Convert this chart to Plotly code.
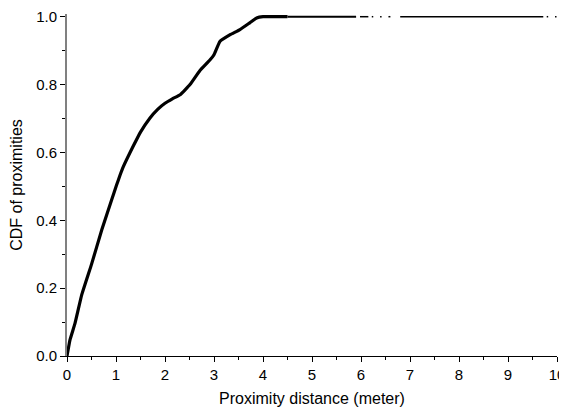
import plotly.graph_objects as go

# main CDF curve (distance in meters, cumulative fraction)
dist = [0.0, 0.06, 0.163, 0.3, 0.5, 0.71, 0.91, 1.01, 1.08, 1.15, 1.35, 1.5, 1.69, 1.85, 2.0, 2.15, 2.31, 2.51, 2.71, 2.92, 3.0, 3.12, 3.33, 3.53, 3.73, 3.87, 4.0, 4.5]
cdf = [0.0, 0.047, 0.096, 0.18, 0.27, 0.372, 0.46, 0.503, 0.532, 0.558, 0.618, 0.66, 0.701, 0.727, 0.745, 0.758, 0.77, 0.8, 0.841, 0.873, 0.888, 0.927, 0.947, 0.962, 0.982, 0.996, 1.0, 1.0]

# thin tail where CDF stays at 1.0
tail_x = [4.5, 5.9]
tail_y = [1.0, 1.0]

# sparse samples at the far tail (segments separated by gaps)
sparse_x = [5.98, 6.15, None, 6.22, 6.25, None, 6.39, 6.42, None, 6.56, 6.6, None, 6.8, 9.72, None, 9.79, 9.82, None, 9.96, 9.99]
sparse_y = [1.0 if v is not None else None for v in sparse_x]

x_ticks = list(range(0, 11))
y_ticks = [0.0, 0.2, 0.4, 0.6, 0.8, 1.0]

fig = go.Figure()
fig.add_trace(go.Scatter(x=dist, y=cdf, mode="lines",
                         line=dict(color="black", width=3.2, shape="spline", smoothing=0.3),
                         showlegend=False))
fig.add_trace(go.Scatter(x=tail_x, y=tail_y, mode="lines",
                         line=dict(color="black", width=2), showlegend=False))
fig.add_trace(go.Scatter(x=sparse_x, y=sparse_y, mode="lines",
                         line=dict(color="black", width=1.5), showlegend=False,
                         connectgaps=False))

font = "Liberation Sans, Arial, sans-serif"
# the page body adds an 8px offset, so the figure is 8px smaller and margins shifted
fig.update_layout(
    width=559, height=399,
    margin=dict(l=59, r=10, t=6, b=51, autoexpand=False),
    plot_bgcolor="white", paper_bgcolor="white",
    font=dict(family=font, color="black", size=14),
    xaxis=dict(range=[0, 10], tickvals=x_ticks, ticktext=[str(v) for v in x_ticks],
               automargin=False, ticklabeloverflow="allow",
               showgrid=False, zeroline=False, showline=True, linecolor="black", linewidth=1,
               ticks="outside", ticklen=5, tickwidth=1, tickcolor="black",
               minor=dict(dtick=0.5, ticks="outside", ticklen=3, tickcolor="black", showgrid=False),
               tickfont=dict(size=15),
               title=dict(text="Proximity distance (meter)", font=dict(size=16), standoff=11)),
    yaxis=dict(range=[0, 1.008], tickvals=y_ticks, ticktext=["%.1f" % v for v in y_ticks],
               automargin=False, ticklabeloverflow="allow",
               showgrid=False, zeroline=False, showline=True, linecolor="#808080", linewidth=2,
               ticks="outside", ticklen=5, tickwidth=1, tickcolor="black",
               minor=dict(dtick=0.1, ticks="outside", ticklen=3, tickcolor="black", showgrid=False),
               tickfont=dict(size=15),
               title=dict(text="CDF of proximities", font=dict(size=16), standoff=10)),
)
fig.write_html("out.html")
